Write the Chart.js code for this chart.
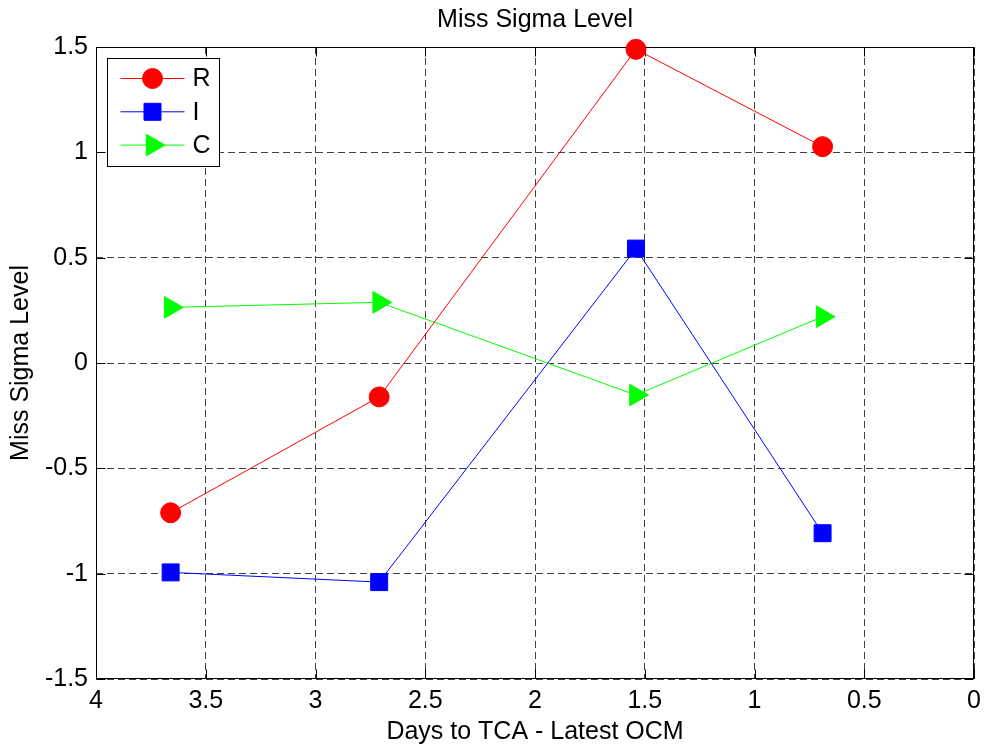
<!DOCTYPE html>
<html><head><meta charset="utf-8">
<script src="https://cdn.jsdelivr.net/npm/chart.js@4.4.0/dist/chart.umd.min.js"></script>
<style>html,body{margin:0;padding:0;background:#fff}#wrap{width:988px;height:747px}</style>
</head><body><div id="wrap"><canvas id="c" width="988" height="747"></canvas></div>
<script>
const daysToTCA = [3.66, 2.71, 1.54, 0.69];
const seriesR = [-0.711, -0.161, 1.489, 1.027];
const seriesI = [-0.994, -1.04, 0.543, -0.808];
const seriesC = [0.264, 0.288, -0.152, 0.220];
const seriesLabels = ['R', 'I', 'C'];
const xTicks = [4, 3.5, 3, 2.5, 2, 1.5, 1, 0.5, 0];
const yTicks = [-1.5, -1, -0.5, 0, 0.5, 1, 1.5];
const chartTitle = 'Miss Sigma Level';
const xTitle = 'Days to TCA - Latest OCM';
const yTitle = 'Miss Sigma Level';

const FONT = "'Liberation Sans', Arial, Helvetica, sans-serif";
const FS = 25;
const toPts = ys => daysToTCA.map((x, i) => ({x: x, y: ys[i]}));

function drawMarker(ctx, style, x, y, r, rot, color) {
  ctx.save();
  ctx.fillStyle = color; ctx.strokeStyle = color; ctx.lineWidth = 1;
  ctx.beginPath();
  if (style === 'circle') ctx.arc(x, y, r, 0, Math.PI * 2);
  else if (style === 'rect') { const s = r * Math.SQRT1_2; ctx.rect(x - s, y - s, 2 * s, 2 * s); }
  else if (style === 'triangle') {
    let a = (rot || 0) * Math.PI / 180;
    for (let k = 0; k < 3; k++) {
      const px = x + Math.sin(a) * r, py = y - Math.cos(a) * r;
      if (k) ctx.lineTo(px, py); else ctx.moveTo(px, py);
      a += 2 * Math.PI / 3;
    }
    ctx.closePath();
  }
  ctx.fill(); ctx.stroke(); ctx.restore();
}

const framePlugin = {
  id: 'frame',
  beforeDatasetsDraw(chart) {
    const {ctx, chartArea: a, scales} = chart;
    ctx.save();
    ctx.strokeStyle = '#000'; ctx.lineWidth = 1; ctx.setLineDash([]);
    const L = Math.round(a.left) + 0.5, R = Math.round(a.right) - 0.5;
    const T = Math.round(a.top) + 0.5, B = Math.round(a.bottom) - 0.5;
    ctx.strokeRect(L, T, R - L, B - T);
    const tl = 9;
    ctx.beginPath();
    scales.x.ticks.forEach(t => {
      const px = Math.round(scales.x.getPixelForValue(t.value)) + 0.5;
      ctx.moveTo(px, B); ctx.lineTo(px, B - tl);
      ctx.moveTo(px, T); ctx.lineTo(px, T + tl);
    });
    scales.y.ticks.forEach(t => {
      const py = Math.round(scales.y.getPixelForValue(t.value)) + 0.5;
      ctx.moveTo(L, py); ctx.lineTo(L + tl, py);
      ctx.moveTo(R, py); ctx.lineTo(R - tl, py);
    });
    ctx.stroke();
    ctx.restore();
  }
};

const legendPlugin = {
  id: 'boxLegend',
  afterDatasetsDraw(chart) {
    const {ctx, chartArea: a} = chart;
    const bx = Math.round(a.left) + 11.5, by = Math.round(a.top) + 11.5, bw = 112, bh = 108;
    ctx.save();
    ctx.fillStyle = '#fff'; ctx.fillRect(bx, by, bw, bh);
    ctx.strokeStyle = '#000'; ctx.lineWidth = 1; ctx.strokeRect(bx, by, bw, bh);
    chart.data.datasets.forEach((ds, i) => {
      const y = by + 20 + i * 33.3;
      ctx.strokeStyle = ds.borderColor; ctx.lineWidth = 1;
      ctx.beginPath(); ctx.moveTo(bx + 13, y); ctx.lineTo(bx + 77, y); ctx.stroke();
      drawMarker(ctx, ds.pointStyle, bx + 45, y, ds.pointRadius, ds.pointRotation, ds.backgroundColor);
      ctx.fillStyle = '#000';
      ctx.font = FS + 'px ' + FONT;
      ctx.textAlign = 'left'; ctx.textBaseline = 'middle';
      ctx.fillText(ds.label, bx + 85, y + 1);
    });
    ctx.restore();
  }
};

new Chart(document.getElementById('c'), {
  type: 'scatter',
  data: {
    datasets: [
      {label: seriesLabels[0], data: toPts(seriesR), borderColor: '#ff0000', backgroundColor: '#ff0000',
       pointStyle: 'circle', pointRadius: 10, pointRotation: 0, showLine: true, borderWidth: 1, clip: false},
      {label: seriesLabels[1], data: toPts(seriesI), borderColor: '#0000ff', backgroundColor: '#0000ff',
       pointStyle: 'rect', pointRadius: 12, pointRotation: 0, showLine: true, borderWidth: 1, clip: false},
      {label: seriesLabels[2], data: toPts(seriesC), borderColor: '#00ff00', backgroundColor: '#00ff00',
       pointStyle: 'triangle', pointRadius: 12.5, pointRotation: 90, showLine: true, borderWidth: 1, clip: false}
    ]
  },
  options: {
    responsive: false, animation: false, devicePixelRatio: 1,
    layout: {padding: {left: 0, right: 9, top: 0, bottom: 0}},
    plugins: {
      legend: {display: false},
      tooltip: {enabled: false},
      title: {display: true, text: chartTitle, color: '#000', fullSize: false,
              font: {family: FONT, size: FS, weight: 'normal', lineHeight: 1.2},
              padding: {top: 5, bottom: 12}}
    },
    scales: {
      x: {
        type: 'linear', reverse: true, min: 0, max: 4,
        afterBuildTicks: s => { s.ticks = xTicks.map(v => ({value: v})); },
        afterFit: s => { s.height = 68; },
        ticks: {color: '#000', font: {family: FONT, size: FS}, padding: 7, maxRotation: 0, autoSkip: false,
                callback: v => String(v)},
        grid: {color: 'rgba(0,0,0,0.75)', lineWidth: 1, drawTicks: false},
        border: {display: false, dash: [7, 4]},
        title: {display: true, text: xTitle, color: '#000', font: {family: FONT, size: FS}, padding: {top: 0, bottom: 0}}
      },
      y: {
        type: 'linear', min: -1.5, max: 1.5,
        afterBuildTicks: s => { s.ticks = yTicks.map(v => ({value: v})); },
        afterFit: s => { s.width = 96; },
        ticks: {color: '#000', font: {family: FONT, size: FS}, padding: 8, autoSkip: false,
                callback: v => String(v)},
        grid: {color: 'rgba(0,0,0,0.75)', lineWidth: 1, drawTicks: false},
        border: {display: false, dash: [7, 4]},
        title: {display: true, text: yTitle, color: '#000', font: {family: FONT, size: FS}, padding: {top: 6.5, bottom: 0}}
      }
    }
  },
  plugins: [framePlugin, legendPlugin]
});
</script></body></html>
